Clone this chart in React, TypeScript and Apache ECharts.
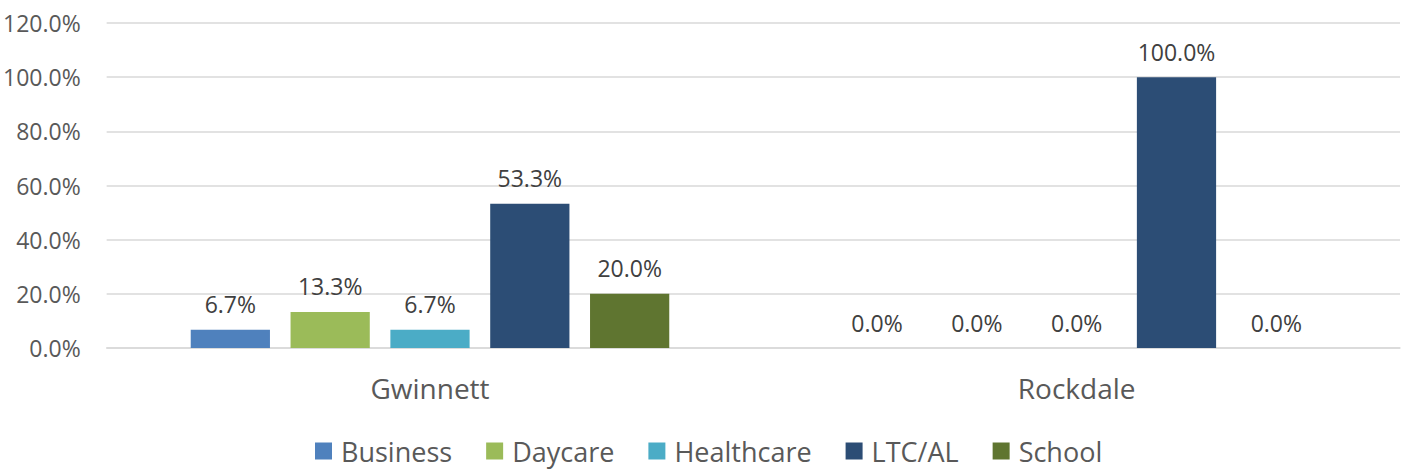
import React, { useEffect, useRef } from "react";
import * as echarts from "echarts";

const categories = ["Gwinnett", "Rockdale"];
const seriesNames = ["Business", "Daycare", "Healthcare", "LTC/AL", "School"];
const businessValues = [6.7, 0.0];
const daycareValues = [13.3, 0.0];
const healthcareValues = [6.7, 0.0];
const ltcValues = [53.3, 100.0];
const schoolValues = [20.0, 0.0];
const seriesColors = ["#4F81BD", "#9BBB59", "#4BACC6", "#2C4D75", "#5F7530"];
const yTicks = { min: 0, max: 120, interval: 20 };

const FONT = "'Open Sans', sans-serif";

export default function App() {
  const ref = useRef<HTMLDivElement>(null);
  useEffect(() => {
    if (!ref.current) return;
    const chart = echarts.init(ref.current, undefined, { renderer: "svg" });
    const values = [businessValues, daycareValues, healthcareValues, ltcValues, schoolValues];
    chart.setOption({
      animation: false,
      textStyle: { fontFamily: FONT },
      grid: { left: 106, right: 4, top: 23, bottom: 123, containLabel: false },
      legend: {
        data: seriesNames,
        left: 315,
        top: 437,
        padding: 0,
        icon: "rect",
        itemWidth: 17,
        itemHeight: 17,
        itemGap: 34,
        textStyle: {
          fontFamily: FONT,
          fontSize: 27,
          lineHeight: 28,
          color: "#595959",
          padding: [0, 0, 0, 4],
        },
      },
      xAxis: {
        type: "category",
        data: categories,
        axisLine: { lineStyle: { color: "#d9d9d9", width: 1.5 } },
        axisTick: { show: false },
        axisLabel: { fontFamily: FONT, fontSize: 28, color: "#595959", margin: 26 },
      },
      yAxis: {
        type: "value",
        min: yTicks.min,
        max: yTicks.max,
        interval: yTicks.interval,
        axisLine: { show: false },
        axisTick: { show: false },
        splitLine: { lineStyle: { color: "#d9d9d9", width: 1.5 } },
        axisLabel: {
          fontFamily: FONT,
          fontSize: 23,
          color: "#595959",
          margin: 26,
          formatter: (v: number) => v.toFixed(1) + "%",
        },
      },
      series: seriesNames.map((name, i) => ({
        name,
        type: "bar",
        data: values[i],
        barGap: "26%",
        barCategoryGap: "26%",
        itemStyle: { color: seriesColors[i] },
        label: {
          show: true,
          position: "top",
          distance: 14,
          fontFamily: FONT,
          fontSize: 23,
          color: "#404040",
          formatter: (p: any) => Number(p.value).toFixed(1) + "%",
        },
      })),
    });
    return () => chart.dispose();
  }, []);
  return (
    <div
      ref={ref}
      style={{ position: "fixed", left: 0, top: 0, width: 1404, height: 471, background: "#fff" }}
    />
  );
}
